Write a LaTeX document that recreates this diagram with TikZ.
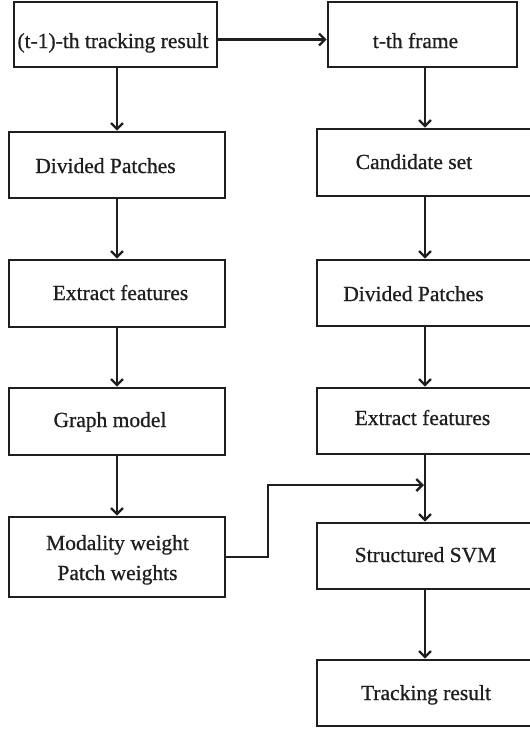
\documentclass[tikz,border=0pt]{standalone}
\usepackage{fontspec}
\setmainfont{Liberation Serif}
\newfontfamily\boxfont[FakeBold=0.8]{Liberation Serif}
\usetikzlibrary{arrows.meta,calc}
\begin{document}
\begin{tikzpicture}[x=1pt,y=-1pt,
  box/.style={draw=black!88,line width=2.6pt,rectangle,inner sep=0pt},
  lbl/.style={inner sep=0pt,anchor=base,text=black!88,
    font=\boxfont\fontsize{21.5}{26}\selectfont},
  arr/.style={draw=black!88,line width=2.6pt,
    -{Straight Barb[length=6pt,width=12pt,line width=2.4pt]}},
  line/.style={draw=black!88,line width=2.6pt}]
\useasboundingbox (0,0) rectangle (530,729);
\clip (0,0) rectangle (530,729);

% boxes: left column
\node[box,minimum width=203pt,minimum height=65pt] (prev)    at (115.5,34.5) {};
\node[box,minimum width=216pt,minimum height=66pt] (ldiv)    at (117,165) {};
\node[box,minimum width=216pt,minimum height=67pt] (lext)    at (117,293.5) {};
\node[box,minimum width=216pt,minimum height=67pt] (graph)   at (117,421.5) {};
\node[box,minimum width=216pt,minimum height=80pt] (weights) at (117,557) {};

% boxes: right column
\node[box,minimum width=189pt,minimum height=65pt] (tframe)  at (422.5,34.5) {};
\node[box,minimum width=216pt,minimum height=67pt] (cand)    at (425,162.5) {};
\node[box,minimum width=216pt,minimum height=66pt] (rdiv)    at (425,293) {};
\node[box,minimum width=216pt,minimum height=66pt] (rext)    at (425,421) {};
\node[box,minimum width=216pt,minimum height=66pt] (svm)     at (425,556) {};
\node[box,minimum width=216pt,minimum height=66pt] (result)  at (425,693) {};

% labels
\node[lbl] (tprev)    at (113,48)    {(t-1)-th tracking result};
\node[lbl] (ttframe)  at (415.5,48)  {t-th frame};
\node[lbl] (tldiv)    at (105.5,173) {Divided Patches};
\node[lbl] (tcand)    at (414,169)   {Candidate set};
\node[lbl] (tlext)    at (120.5,300) {Extract features};
\node[lbl] (trdiv)    at (413.5,301) {Divided Patches};
\node[lbl] (tgraph)   at (110,427)   {Graph model};
\node[lbl] (trext)    at (422.5,425) {Extract features};
\node[lbl] (tmod)     at (117.5,550) {Modality weight};
\node[lbl] (tpatch)   at (117.5,580) {Patch weights};
\node[lbl] (tsvm)     at (425.5,562) {Structured SVM};
\node[lbl] (tresult)  at (426,700)   {Tracking result};

% connectors
\draw[arr] ([yshift=-5pt]prev.east) -- ([yshift=-5pt]prev.east -| tframe.west);
\draw[arr] (ldiv.north |- prev.south) -- (ldiv.north);
\draw[arr] (ldiv.south) -- (lext.north);
\draw[arr] (lext.south) -- (graph.north);
\draw[arr] (graph.south) -- (weights.north);

\draw[arr] (cand.north |- tframe.south) -- (cand.north);
\draw[arr] (cand.south) -- (rdiv.north);
\draw[arr] (rdiv.south) -- (rext.north);
\draw[arr] (rext.south) -- (svm.north);
\draw[arr] (svm.south) -- (result.north);

\coordinate (turn) at (268,485);
\draw[arr] (weights.east) -| (turn) -- ([xshift=-1pt]turn -| rext.south);
\end{tikzpicture}
\end{document}
